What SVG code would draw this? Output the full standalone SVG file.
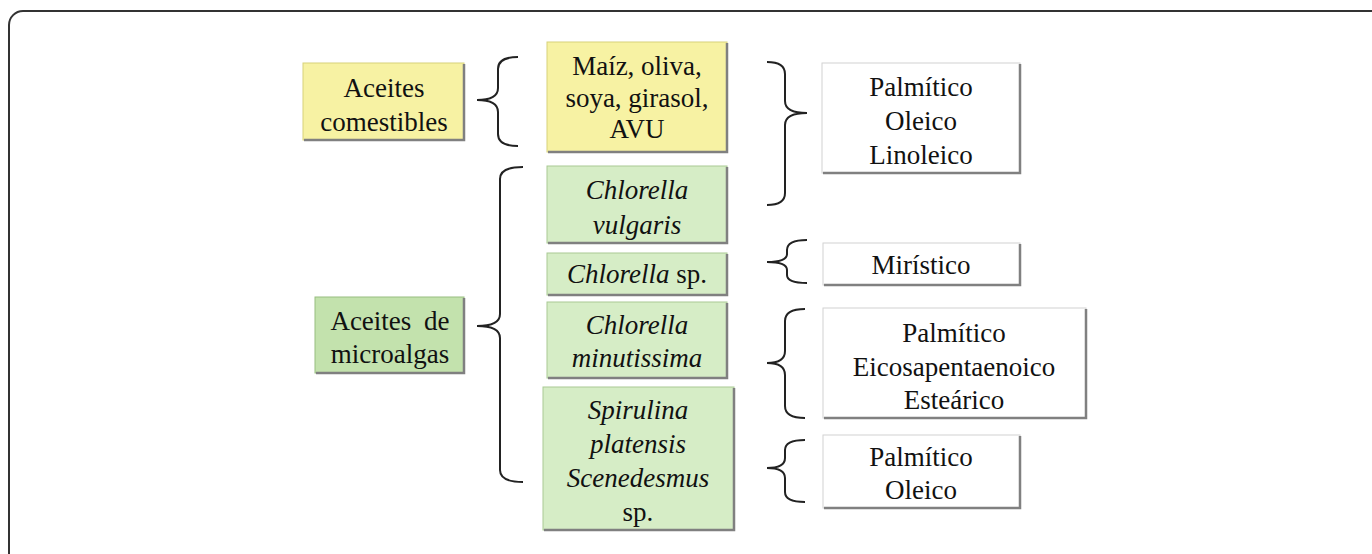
<svg xmlns="http://www.w3.org/2000/svg" width="1372" height="554" viewBox="0 0 1372 554">
<defs>
<style>
.dummy{fill:none}
.y{fill:#f7f2a3;stroke:#d8d27a;stroke-width:1}
.g{fill:#d6edc6;stroke:#a9c994;stroke-width:1}
.g2{fill:#c3e2ad;stroke:#98bd80;stroke-width:1}
.w{fill:#fff;stroke:#d2d2d2;stroke-width:1}
.sh{fill:none;stroke:#808080;stroke-width:2.5}
.br{fill:none;stroke:#222;stroke-width:2}
</style>
</defs>
<rect x="9" y="11" width="1390" height="570" rx="14" fill="#fff" stroke="#333" stroke-width="2"/>
<g font-family="Liberation Serif" font-size="27" fill="#111" text-anchor="middle">
<g id="n-comestibles"><rect class="y" x="303" y="63" width="161" height="77"/><path class="sh" d="M464,64 V140 H304"/><text x="384" y="97">Aceites</text><text x="384" y="131">comestibles</text></g>
<g id="n-microalgas"><rect class="g2" x="315" y="297" width="149" height="76"/><path class="sh" d="M464,298 V373 H316"/><text x="390" y="330" word-spacing="6">Aceites de</text><text x="390" y="363">microalgas</text></g>
<g id="n-maiz"><rect class="y" x="547" y="42" width="180" height="110"/><path class="sh" d="M727,43 V152 H548"/><text x="637" y="75">Maíz, oliva,</text><text x="637" y="107">soya, girasol,</text><text x="637" y="138">AVU</text></g>
<g id="n-cvulgaris"><rect class="g" x="547" y="166" width="180" height="77"/><path class="sh" d="M727,167 V243 H548"/><text font-style="italic" x="637" y="199">Chlorella</text><text font-style="italic" x="637" y="234">vulgaris</text></g>
<g id="n-csp"><rect class="g" x="547" y="253" width="180" height="42"/><path class="sh" d="M727,254 V295 H548"/><text x="637" y="283"><tspan font-style="italic">Chlorella</tspan> sp.</text></g>
<g id="n-cmin"><rect class="g" x="547" y="302" width="180" height="76"/><path class="sh" d="M727,303 V378 H548"/><text font-style="italic" x="637" y="334">Chlorella</text><text font-style="italic" x="637" y="367">minutissima</text></g>
<g id="n-spir"><rect class="g" x="543" y="387" width="191" height="143"/><path class="sh" d="M734,388 V530 H544"/><text font-style="italic" x="638" y="419">Spirulina</text><text font-style="italic" x="638" y="453">platensis</text><text font-style="italic" x="638" y="487">Scenedesmus</text><text x="638" y="521">sp.</text></g>
<g id="n-pol"><rect class="w" x="822" y="63" width="198" height="110"/><path class="sh" d="M1020,64 V173 H823"/><text x="921" y="96">Palmítico</text><text x="921" y="130">Oleico</text><text x="921" y="164">Linoleico</text></g>
<g id="n-mir"><rect class="w" x="823" y="243" width="197" height="42"/><path class="sh" d="M1020,244 V285 H824"/><text x="921" y="274">Mirístico</text></g>
<g id="n-pee"><rect class="w" x="823" y="308" width="263" height="110"/><path class="sh" d="M1086,309 V418 H824"/><text x="954" y="342">Palmítico</text><text x="954" y="376">Eicosapentaenoico</text><text x="954" y="409">Esteárico</text></g>
<g id="n-po"><rect class="w" x="823" y="435" width="197" height="73"/><path class="sh" d="M1020,436 V508 H824"/><text x="921" y="466">Palmítico</text><text x="921" y="499">Oleico</text></g>
</g>
<g id="connectors">
<path class="br" d="M518,57 Q498,57 498,69 V88 Q498,100 477,100 Q498,100 498,112 V134 Q498,146 518,146"/>
<path class="br" d="M523,167 Q500,167 500,179 V314 Q500,326 477,326 Q500,326 500,338 V470 Q500,482 523,482"/>
<path class="br" d="M767,62 Q785,62 785,74 V101 Q785,113 807,113 Q785,113 785,125 V193 Q785,205 767,205"/>
<path class="br" d="M807,240 Q787,240 787,250 V254 Q787,262 767,262 Q787,262 787,270 V275 Q787,283 807,283"/>
<path class="br" d="M805,309 Q785,309 785,321 V351 Q785,363 767,363 Q785,363 785,375 V406 Q785,418 805,418"/>
<path class="br" d="M805,440 Q785,440 785,450 V458 Q785,468 767,468 Q785,468 785,478 V492 Q785,502 805,502"/>
</g>
</svg>
